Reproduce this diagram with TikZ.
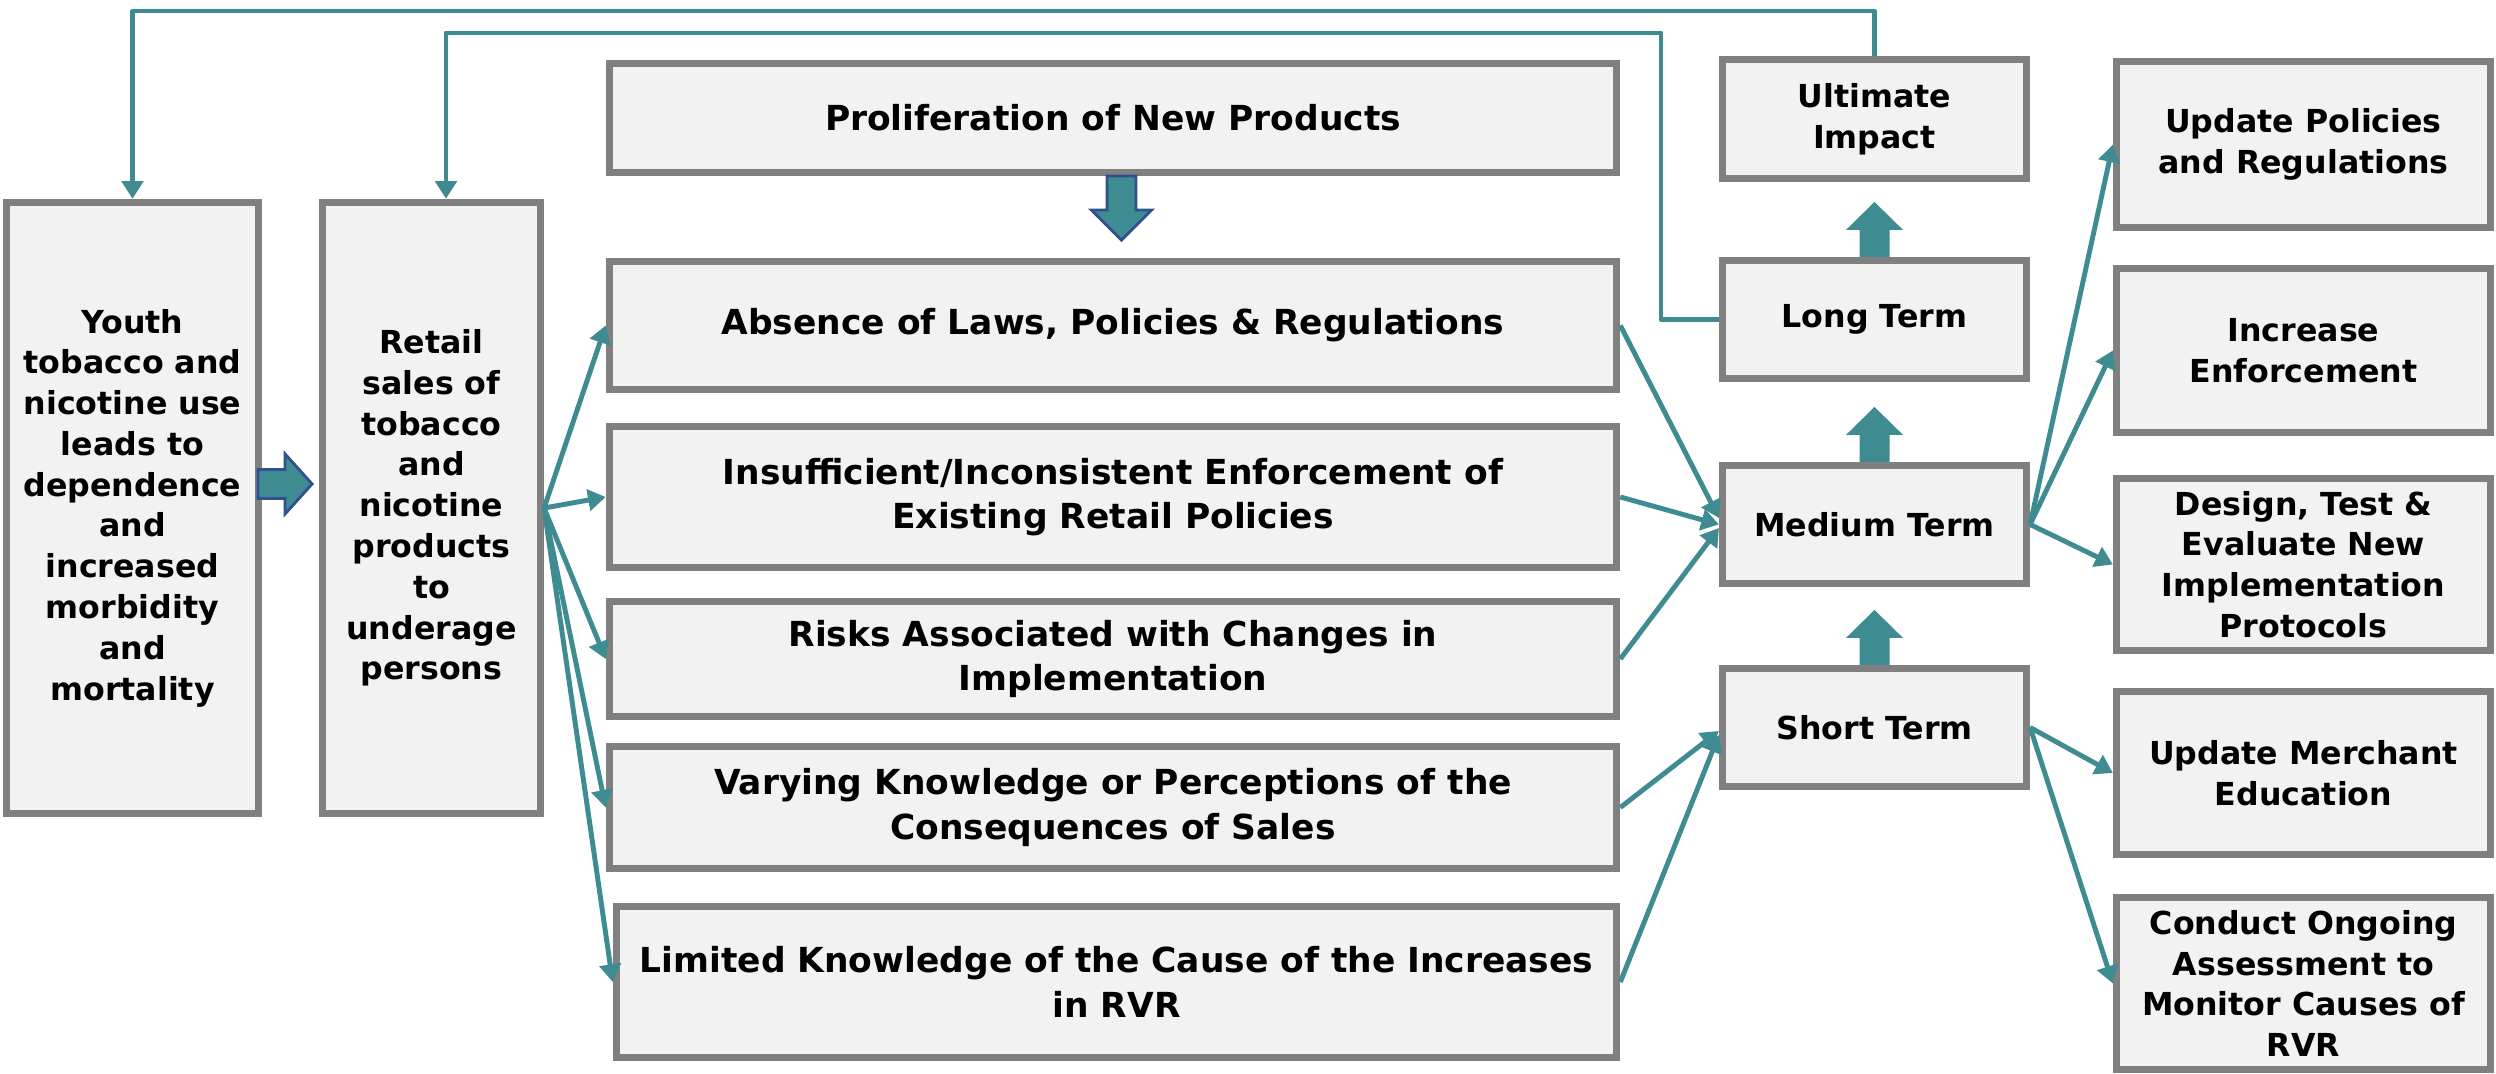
\documentclass[tikz,border=0pt]{standalone}
\usepackage{fontspec}
\setmainfont{DejaVu Sans}
\usetikzlibrary{arrows.meta}
\definecolor{linkteal}{RGB}{62,139,145}
\definecolor{boxgray}{RGB}{128,128,128}
\definecolor{boxfill}{RGB}{242,242,242}
\definecolor{outlineblue}{RGB}{47,82,143}
\begin{document}
\begin{tikzpicture}[x=0.01cm, y=-0.01cm,
  box/.style={draw=boxgray, fill=boxfill, line width=2pt, inner sep=0pt, align=center},
  smalltext/.style={font=\fontsize{9}{11.6}\selectfont\bfseries},
  largetext/.style={font=\fontsize{9.8}{12.6}\selectfont\bfseries},
  conn/.style={draw=linkteal, line width=1.4pt, line join=round,
    -{Triangle[width=6pt,length=5pt]}},
  uparrowpic/.pic={\fill[linkteal] (-15,0) -- (-15,-27) -- (-28.5,-27) -- (0,-55)
      -- (28.5,-27) -- (15,-27) -- (15,0) -- cycle;},
  downarrowpic/.pic={\filldraw[fill=linkteal, draw=outlineblue, line width=0.8pt]
      (-14.5,0) -- (-14.5,34) -- (-30,34) -- (0,64) -- (30,34) -- (14.5,34) -- (14.5,0) -- cycle;},
  rightarrowpic/.pic={\filldraw[fill=linkteal, draw=outlineblue, line width=0.8pt]
      (0,-14.5) -- (27,-14.5) -- (27,-30) -- (54,0) -- (27,30) -- (27,14.5) -- (0,14.5) -- cycle;}
]
\useasboundingbox (0,0) rectangle (2496,1074);

% left column
\node[box, smalltext, minimum width=2.52cm, minimum height=6.11cm] (youth) at (132.5,508)
  {Youth\\tobacco and\\nicotine use\\leads to\\dependence\\and\\increased\\morbidity\\and\\mortality};
\node[box, smalltext, minimum width=2.18cm, minimum height=6.11cm] (retail) at (431.5,508)
  {Retail\\sales of\\tobacco\\and\\nicotine\\products\\to\\underage\\persons};

% middle column: contributing factors
\node[box, largetext, minimum width=10.07cm, minimum height=1.09cm] (prolif) at (1113,118)
  {Proliferation of New Products};
\node[box, largetext, minimum width=10.07cm, minimum height=1.28cm] (absence) at (1113,325.5)
  {Absence of Laws, Policies \& Regulations};
\node[box, largetext, minimum width=10.07cm, minimum height=1.41cm] (insuff) at (1113,497)
  {Insufficient/Inconsistent Enforcement of\\Existing Retail Policies};
\node[box, largetext, minimum width=10.07cm, minimum height=1.15cm] (risks) at (1113,659)
  {Risks Associated with Changes in\\Implementation};
\node[box, largetext, minimum width=10.07cm, minimum height=1.22cm] (varying) at (1113,807.5)
  {Varying Knowledge or Perceptions of the\\Consequences of Sales};
\node[box, largetext, minimum width=10.00cm, minimum height=1.51cm] (limited) at (1116.5,982)
  {Limited Knowledge of the Cause of the Increases\\in RVR};

% outcome timeline
\node[box, smalltext, minimum width=3.04cm, minimum height=1.19cm] (ultimate) at (1874.5,119)
  {Ultimate\\Impact};
\node[box, smalltext, minimum width=3.04cm, minimum height=1.18cm] (long) at (1874.5,319.5)
  {Long Term};
\node[box, smalltext, minimum width=3.04cm, minimum height=1.18cm] (medium) at (1874.5,524.5)
  {Medium Term};
\node[box, smalltext, minimum width=3.04cm, minimum height=1.18cm] (short) at (1874.5,727.5)
  {Short Term};

% strategies
\node[box, smalltext, minimum width=3.74cm, minimum height=1.66cm] (updpol) at (2303.5,144.5)
  {Update Policies\\and Regulations};
\node[box, smalltext, minimum width=3.74cm, minimum height=1.64cm] (increase) at (2303.5,350.5)
  {Increase\\Enforcement};
\node[box, smalltext, minimum width=3.74cm, minimum height=1.72cm] (design) at (2303.5,564.5)
  {Design, Test \&\\Evaluate New\\Implementation\\Protocols};
\node[box, smalltext, minimum width=3.74cm, minimum height=1.63cm] (merchant) at (2303.5,773)
  {Update Merchant\\Education};
\node[box, smalltext, minimum width=3.74cm, minimum height=1.72cm] (conduct) at (2303.5,983.5)
  {Conduct Ongoing\\Assessment to\\Monitor Causes of\\RVR};

% block arrows
\pic at ([xshift=-0.04cm, yshift=0.24cm]youth.east) {rightarrowpic};
\pic at ([xshift=0.085cm]prolif.south) {downarrowpic};
\pic at (long.north) {uparrowpic};
\pic at (medium.north) {uparrowpic};
\pic at (short.north) {uparrowpic};

% feedback loops along the top
\coordinate (topA) at (1000,11);
\coordinate (lp) at (1661,33);
\coordinate (rp) at (446,33);
\draw[conn] (ultimate.north) |- (topA) -| (youth.north);
\draw[conn] (long.west) -| (lp) -- (rp) -- (rp |- retail.north);

% retail sales to factors
\foreach \t in {absence, insuff, risks, varying, limited}
  \draw[conn] (retail.east) -- (\t.west);

% factors to outcomes
\draw[conn] (absence.east) -- ([yshift=0.065cm]medium.west);
\draw[conn] (insuff.east) -- (medium.west);
\draw[conn] (risks.east) -- ([yshift=-0.035cm]medium.west);
\draw[conn] (varying.east) -- ([yshift=-0.035cm]short.west);
\draw[conn] (limited.east) -- ([yshift=-0.075cm]short.west);

% outcomes to strategies
\foreach \t in {updpol, increase, design}
  \draw[conn] (medium.east) -- (\t.west);
\foreach \t in {merchant, conduct}
  \draw[conn] (short.east) -- (\t.west);
\end{tikzpicture}
\end{document}
